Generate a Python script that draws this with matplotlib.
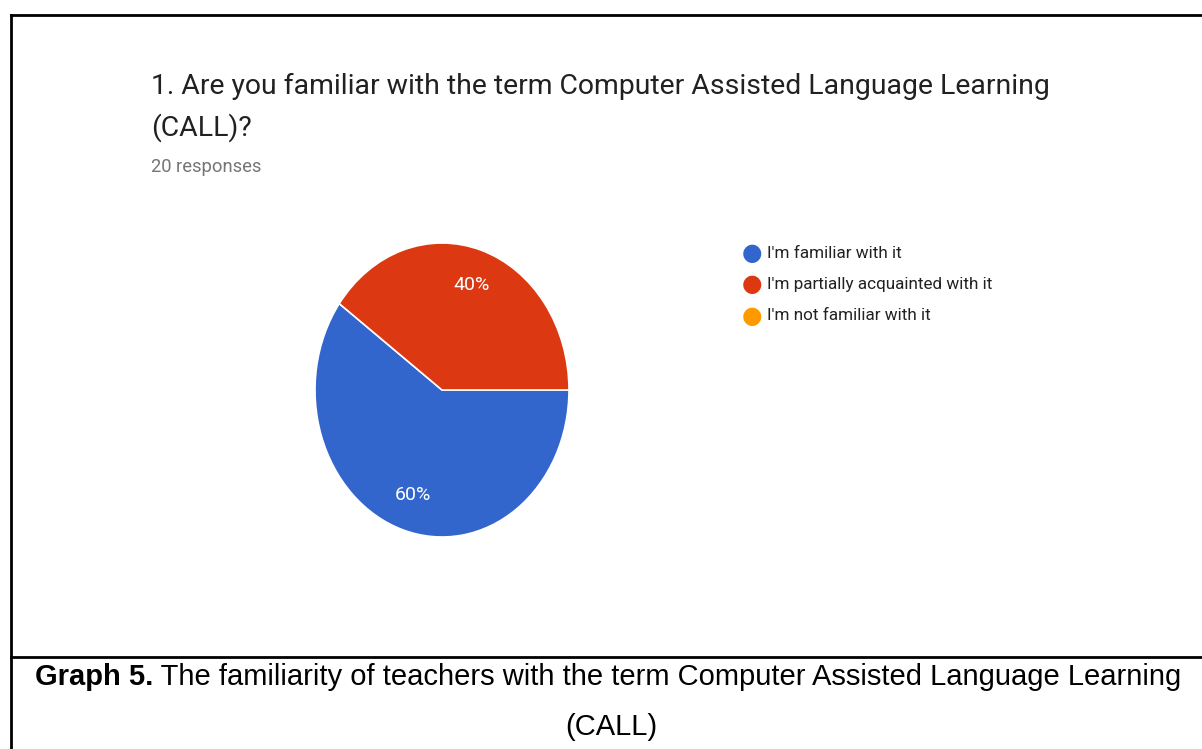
import matplotlib
matplotlib.use('Agg')
import matplotlib.pyplot as plt
from matplotlib.lines import Line2D

# survey answers (share of 20 responses)
categories = ["I'm familiar with it", "I'm partially acquainted with it", "I'm not familiar with it"]
shares = [60, 40, 0]
colors = ['#3366CC', '#DC3912', '#FF9900']

title = "1. Are you familiar with the term Computer Assisted Language Learning\n(CALL)?"
subtitle = "20 responses"
caption_bold = "Graph 5."
caption_rest = " The familiarity of teachers with the term Computer Assisted Language Learning"
caption_line2 = "(CALL)"

W, H = 1202, 749
fig = plt.figure(figsize=(W / 100, H / 100), dpi=100)
fig.patch.set_facecolor('white')

# frame of the table cell and the line under the chart
frame = dict(color='black', linewidth=2, solid_capstyle='projecting')
fig.add_artist(Line2D([11 / W, 11 / W], [0, 1 - 15 / H], transform=fig.transFigure, **frame))
fig.add_artist(Line2D([11 / W, 1], [1 - 15 / H, 1 - 15 / H], transform=fig.transFigure, **frame))
fig.add_artist(Line2D([11 / W, 1], [1 - 657 / H, 1 - 657 / H], transform=fig.transFigure, **frame))

# headings
fig.text(151 / W, 1 - 86 / H, title.split('\n')[0], ha='left', va='center', fontsize=20.4,
         family='Roboto', color='#212121')
fig.text(151 / W, 1 - 128 / H, title.split('\n')[1], ha='left', va='center', fontsize=20.4,
         family='Roboto', color='#212121')
fig.text(151 / W, 1 - 167 / H, subtitle, ha='left', va='center', fontsize=13.2,
         family='Roboto', color='#757575')

# pie (slightly taller than wide)
ax = fig.add_axes([315 / W, 1 - 537 / H, 254 / W, 294 / H])
vals = [v for v in shares if v > 0]
cols = [c for v, c in zip(shares, colors) if v > 0]
wedges, texts, autotexts = ax.pie(vals, colors=cols, startangle=144, counterclock=True,
                                  autopct='%d%%', pctdistance=0.75,
                                  wedgeprops=dict(edgecolor='white', linewidth=1.2),
                                  textprops=dict(color='white', fontsize=14, family='Roboto'))
ax.set_aspect('auto')
ax.set_xlim(-1, 1)
ax.set_ylim(-1, 1)

# legend
for i, (lab, col) in enumerate(zip(categories, colors)):
    y = 1 - (253 + i * 31.5) / H
    fig.text(752 / W, y, '\u25CF', ha='center', va='center', fontsize=17,
             color=col, family='DejaVu Sans')
    fig.text(767 / W, y, lab, ha='left', va='center', fontsize=12.3,
             family='Roboto', color='#222222')

# caption below the line
fig.canvas.draw()
r = fig.canvas.get_renderer()
t1 = fig.text(35 / W, 1 - 677 / H, caption_bold, ha='left', va='center', fontsize=21,
              family='Liberation Sans', weight='bold')
bb = t1.get_window_extent(renderer=r)
fig.text(bb.x1 / W, 1 - 677 / H, caption_rest, ha='left', va='center', fontsize=21,
         family='Liberation Sans')
fig.text(611 / W, 1 - 727 / H, caption_line2, ha='center', va='center', fontsize=21,
         family='Liberation Sans')

fig.savefig('out.png', dpi=100, facecolor='white')
